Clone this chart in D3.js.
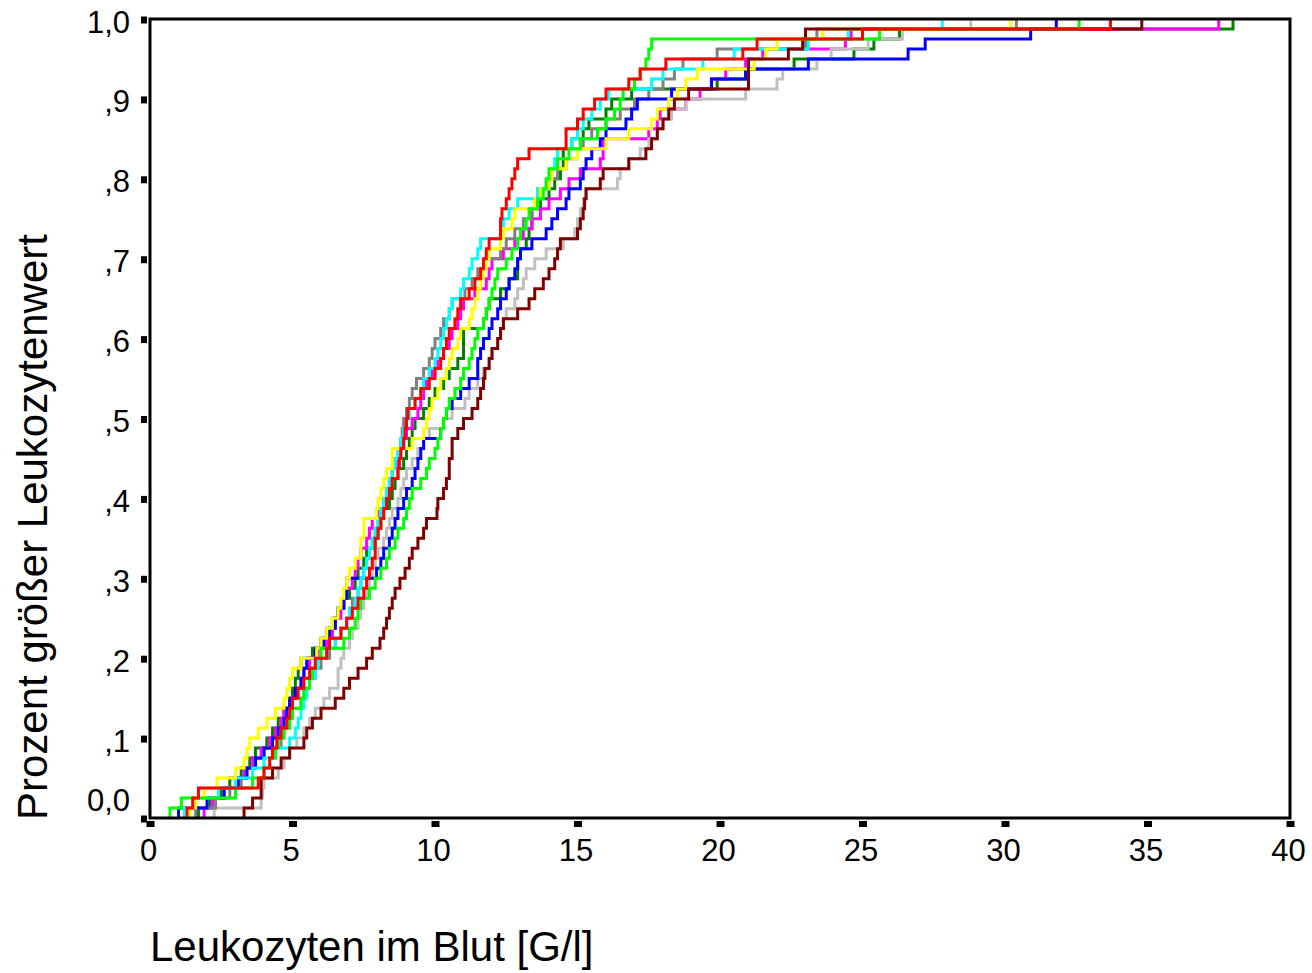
<!DOCTYPE html>
<html>
<head>
<meta charset="utf-8">
<script src="https://cdn.jsdelivr.net/npm/d3@7"></script>
<style>
  body { margin: 0; background: #fff; }
  text { font-family: "Liberation Sans", Arial, sans-serif; fill: #000; }
</style>
</head>
<body>
<svg id="chart"></svg>
<script>
// Leukozyten-Werte je Gruppe (sortiert)
var green = [0.7,1.1,3.0,3.6,4.0,4.2,4.4,4.5,4.7,4.9,5.0,5.3,5.4,5.6,5.7,5.8,6.0,6.8,7.0,7.2,7.3,7.4,7.7,7.9,8.1,8.3,8.4,8.6,8.7,8.9,9.0,9.1,9.2,9.5,9.7,9.8,10.0,10.1,10.2,10.3,10.4,10.5,10.7,10.9,11.0,11.2,11.3,11.4,11.5,11.7,11.8,11.9,12.0,12.1,12.2,12.5,12.7,12.9,13.0,13.2,13.3,13.6,13.8,13.9,14.0,14.3,14.7,15.1,15.7,16.0,16.3,16.5,16.6,17.0,17.2,17.4,17.5,17.6,25.6,32.6];
var red = [1.3,1.5,1.7,3.8,4.0,4.2,4.3,4.45,4.6,4.8,4.9,5.0,5.2,5.4,5.6,5.8,6.2,6.3,6.7,6.9,7.1,7.3,7.5,7.6,7.7,7.8,7.9,7.9,8.0,8.1,8.2,8.3,8.4,8.5,8.7,8.75,8.8,8.9,8.95,9.0,9.05,9.3,9.5,9.8,10.0,10.2,10.3,10.4,10.5,10.7,10.8,10.9,11.2,11.4,11.6,11.7,11.8,11.9,12.3,12.3,12.35,12.5,12.6,12.7,12.8,12.9,13.3,14.6,14.6,15.0,15.2,15.6,16.0,16.8,17.2,18.1,20.8,21.3,25.0,33.7];
var yellow = [1.4,1.6,1.9,2.35,3.0,3.3,3.4,3.5,3.8,4.1,4.4,4.7,4.8,4.9,5.0,5.3,5.85,6.0,6.2,6.4,6.6,6.7,6.8,6.9,7.0,7.2,7.4,7.4,7.5,7.5,7.95,8.0,8.1,8.2,8.3,8.5,8.5,9.2,9.6,9.7,9.8,9.9,10.1,10.2,10.4,10.5,10.6,10.8,10.9,11.2,11.3,11.4,11.5,11.6,11.7,11.8,11.9,12.3,12.4,12.7,12.8,13.5,13.7,14.0,14.1,14.6,15.0,16.0,16.8,17.6,17.8,18.2,18.5,18.8,19.2,21.2,21.6,22.0,23.6,30.2];
var cyan = [1.2,1.5,2.4,3.0,3.6,4.0,4.4,4.9,5.1,5.2,5.3,5.4,5.5,5.6,5.8,5.9,6.2,6.5,6.7,6.9,7.0,7.2,7.3,7.4,7.5,7.6,7.7,7.8,7.9,8.0,8.1,8.2,8.3,8.4,8.5,8.6,8.7,8.8,8.9,9.0,9.1,9.3,9.5,9.6,9.8,10.0,10.1,10.2,10.3,10.4,10.5,10.6,10.9,11.0,11.2,11.3,11.5,11.6,12.3,12.4,12.6,12.9,13.6,14.0,14.1,14.2,14.3,14.8,15.0,15.2,15.5,15.8,16.1,17.6,18.0,19.4,20.5,23.1,24.5,27.8];
var magenta = [1.9,2.2,2.6,3.0,3.3,3.6,3.9,4.2,4.4,4.6,4.7,5.0,5.1,5.3,5.4,5.6,5.9,6.2,6.4,6.5,6.7,6.8,6.9,7.1,7.2,7.3,7.4,7.6,7.7,7.8,8.0,8.2,8.3,8.4,8.5,8.7,8.8,8.9,9.0,9.2,9.4,9.5,9.6,9.7,9.9,10.1,10.3,10.5,10.6,10.8,10.9,11.0,11.4,11.8,11.9,12.0,12.4,12.8,13.1,13.4,13.7,14.0,14.4,14.7,15.1,15.8,15.9,15.9,17.5,17.8,17.9,18.8,19.3,19.7,20.2,20.9,21.5,24.4,24.6,37.5];
var blue = [1.0,2.0,2.6,3.1,3.4,3.7,4.0,4.3,4.5,4.7,4.8,4.9,5.1,5.3,5.4,5.5,5.8,6.1,6.3,6.5,6.6,6.8,6.9,6.9,7.95,8.1,8.2,8.4,8.5,8.6,8.7,8.9,9.0,9.2,9.3,9.4,9.5,9.6,10.2,10.3,10.4,10.6,10.9,11.2,11.5,11.5,11.6,11.7,11.9,12.0,12.2,12.3,12.5,12.6,12.8,12.9,13.0,13.4,13.9,14.1,14.3,14.6,14.7,15.1,15.2,15.3,15.5,15.8,16.0,16.7,16.9,17.1,18.3,19.7,20.9,23.1,26.6,27.2,30.9,31.8];
var darkgreen = [1.7,2.1,2.5,2.8,3.2,3.5,3.7,4.1,4.3,4.5,4.7,4.9,5.0,5.1,5.2,5.3,5.7,6.0,6.2,6.4,6.6,6.8,7.0,7.2,7.3,7.5,7.6,7.9,8.0,8.1,8.2,8.4,8.5,8.6,8.7,8.9,9.0,9.1,9.2,9.3,9.6,9.8,10.0,10.3,10.5,10.8,11.0,11.0,11.0,11.7,11.8,11.9,12.3,12.6,12.9,12.9,13.0,13.2,13.3,13.4,13.4,13.7,14.0,14.2,14.4,14.5,14.5,14.8,15.2,15.4,16.0,16.2,16.9,19.9,20.9,22.6,24.7,25.4,26.3,38.0];
var gray = [1.6,2.3,2.8,3.2,3.4,3.7,4.0,4.6,4.7,4.9,5.0,5.3,5.4,5.6,5.8,6.0,6.3,6.5,6.7,6.9,7.0,7.1,7.3,7.4,7.5,7.6,7.7,7.8,7.9,8.0,8.1,8.2,8.3,8.4,8.5,8.6,8.7,8.8,8.85,8.9,9.0,9.1,9.2,9.35,9.6,9.8,9.9,10.0,10.2,10.3,10.5,10.6,11.05,11.3,11.5,11.75,12.3,12.5,12.8,13.1,13.4,13.6,13.6,14.0,14.3,14.6,15.0,15.2,15.5,16.0,16.5,17.0,17.5,18.0,18.4,18.7,19.9,23.0,23.4,30.4];
var lightgray = [2.25,3.9,3.95,4.0,4.5,4.7,4.9,5.15,5.4,5.6,5.8,6.1,6.3,6.6,6.6,6.7,6.8,7.0,7.1,7.3,7.4,7.5,7.6,7.7,7.8,7.9,8.0,8.2,8.3,8.4,8.5,8.7,8.8,8.9,9.0,9.2,9.4,9.6,9.8,10.3,10.6,11.05,11.2,11.5,11.7,11.9,12.0,12.2,12.3,12.4,12.5,12.8,12.9,13.1,13.2,13.5,13.9,14.5,14.9,15.0,15.1,15.2,15.3,16.4,16.5,16.8,17.2,17.5,17.8,18.0,18.3,18.8,20.9,22.0,22.2,23.4,23.9,25.2,26.4,28.8];
var maroon = [3.3,3.6,3.9,3.9,4.3,4.6,4.9,5.4,5.5,5.7,6.0,6.5,6.8,7.0,7.3,7.6,7.8,8.07,8.2,8.3,8.4,8.5,8.6,8.77,8.95,9.1,9.2,9.4,9.6,9.7,10.07,10.1,10.3,10.4,10.5,10.5,10.6,10.6,10.8,11.0,11.3,11.5,11.6,11.7,11.75,11.9,12.0,12.2,12.3,12.4,12.9,13.3,13.5,13.8,14.0,14.2,14.3,14.4,15.0,15.1,15.2,15.25,15.3,15.8,15.9,16.8,17.4,17.6,17.8,18.0,18.2,18.4,18.9,21.0,21.0,21.0,22.4,22.9,23.0,34.8];

var seriesValues = [darkgreen, magenta, lightgray, gray, blue, cyan, yellow, maroon, green, red];
var seriesColors = ["#008000", "#ff00ff", "#c0c0c0", "#808080", "#0000ff", "#00ffff", "#ffff00", "#800000", "#00ff00", "#ff0000"];

var xTicks = [0, 5, 10, 15, 20, 25, 30, 35, 40];
var yTicks = [0, 0.1, 0.2, 0.3, 0.4, 0.5, 0.6, 0.7, 0.8, 0.9, 1.0];
var yTickLabels = ["0,0", ",1", ",2", ",3", ",4", ",5", ",6", ",7", ",8", ",9", "1,0"];

var xTitle = "Leukozyten im Blut [G/l]";
var yTitle = "Prozent größer Leukozytenwert";

// - Masse

var chartWidth = 1312;
var chartHeight = 973;
var plotLeft = 150, plotRight = 1290, plotTop = 19, plotBottom = 818;

var svg = d3.select("#chart")
  .attr("width", chartWidth)
  .attr("height", chartHeight);

var x = d3.scaleLinear().domain([0, 40]).range([plotLeft, plotRight]);
var y = d3.scaleLinear().domain([0, 1]).range([plotBottom, plotTop]);

// - Stufenlinien

var line = d3.line()
  .x(function(d){ return x(d[0]); })
  .y(function(d){ return y(d[1]); })
  .curve(d3.curveStepAfter);

seriesValues.forEach(function(vals, s){
  var n = vals.length;
  var pts = [[vals[0], 0]].concat(vals.map(function(v, i){ return [v, (i + 1) / n]; }));
  svg.append("path")
    .attr("d", line(pts))
    .attr("fill", "none")
    .attr("stroke", seriesColors[s])
    .attr("stroke-width", 3);
});

// - Rahmen

svg.append("rect")
  .attr("x", plotLeft)
  .attr("y", plotTop)
  .attr("width", plotRight - plotLeft)
  .attr("height", plotBottom - plotTop)
  .attr("fill", "none")
  .attr("stroke", "#000")
  .attr("stroke-width", 3);

// - Achsen

var xAxis = d3.axisBottom(x).tickValues(xTicks).tickSize(0).tickPadding(21);
var gx = svg.append("g")
  .attr("transform", "translate(0," + plotBottom + ")")
  .call(xAxis);
gx.select(".domain").remove();
gx.selectAll("text").style("font-size", "31px").attr("dx", "-2px").attr("dy", "0.71em");

gx.selectAll(".tick").append("rect")
  .attr("x", -4).attr("y", 3)
  .attr("width", 8).attr("height", 6)
  .attr("fill", "#000");

var yAxis = d3.axisLeft(y).tickValues(yTicks).tickSize(0).tickPadding(20)
  .tickFormat(function(d, i){ return yTickLabels[i]; });
var gy = svg.append("g")
  .attr("transform", "translate(" + plotLeft + ",0)")
  .call(yAxis);
gy.select(".domain").remove();
gy.selectAll("text").style("font-size", "31px").attr("dy", function(d){ return d === 0 ? "-0.25em" : "0.42em"; });

gy.selectAll(".tick").append("rect")
  .attr("x", -9).attr("y", -3)
  .attr("width", 6).attr("height", 7)
  .attr("fill", "#000");

// - Titel

svg.append("text")
  .attr("x", 150)
  .attr("y", 961)
  .style("font-size", "42px")
  .text(xTitle);

svg.append("text")
  .attr("transform", "translate(47,820) rotate(-90)")
  .style("font-size", "42px")
  .text(yTitle);
</script>
</body>
</html>
